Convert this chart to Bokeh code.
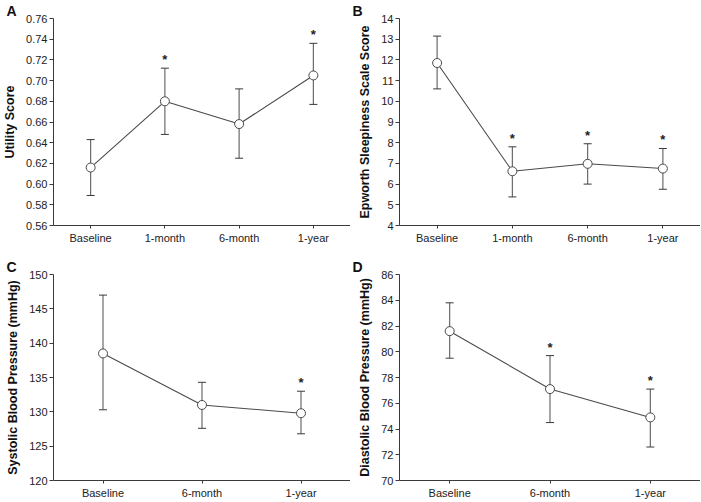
from bokeh.plotting import figure
from bokeh.layouts import gridplot
from bokeh.models import FactorRange, ColumnDataSource, Whisker, TeeHead, FixedTicker, Title
from bokeh.embed import file_html
from bokeh.resources import INLINE
from bokeh.core.properties import value

# ---- data ----
cats4 = ["Baseline", "1-month", "6-month", "1-year"]
cats3 = ["Baseline", "6-month", "1-year"]

util_mean = [0.616, 0.680, 0.658, 0.705]
util_low = [0.589, 0.648, 0.625, 0.677]
util_high = [0.643, 0.712, 0.692, 0.736]
util_star = [False, True, False, True]

ess_mean = [11.85, 6.62, 6.98, 6.75]
ess_low = [10.6, 5.38, 6.0, 5.75]
ess_high = [13.15, 7.8, 7.95, 7.72]
ess_star = [False, True, True, True]

sbp_mean = [138.5, 131.0, 129.8]
sbp_low = [130.3, 127.6, 126.8]
sbp_high = [147.0, 134.3, 133.0]
sbp_star = [False, False, True]

dbp_mean = [81.6, 77.1, 74.9]
dbp_low = [79.5, 74.5, 72.6]
dbp_high = [83.8, 79.7, 77.1]
dbp_star = [False, True, True]

util_ticks = [0.56, 0.58, 0.60, 0.62, 0.64, 0.66, 0.68, 0.70, 0.72, 0.74, 0.76]
ess_ticks = [4, 5, 6, 7, 8, 9, 10, 11, 12, 13, 14]
sbp_ticks = [120, 125, 130, 135, 140, 145, 150]
dbp_ticks = [70, 72, 74, 76, 78, 80, 82, 84, 86]

TICK_FONT = "Liberation Sans"
LABEL_FONT = "Liberation Sans"
AX = "#3a3a3a"
LINE = "#4a4a4a"
BAR = "#6a6a6a"


def panel(letter, cats, mean, low, high, star, ticks, ylabel, fmt,
          w, h, bl, br, bt, bb):
    p = figure(x_range=FactorRange(*cats, range_padding=0),
               y_range=(ticks[0], ticks[-1]),
               width=w, height=h, output_backend="svg", toolbar_location=None,
               min_border_left=bl, min_border_right=br,
               min_border_top=bt, min_border_bottom=bb)
    p.outline_line_color = None
    p.xgrid.visible = False
    p.ygrid.visible = False
    p.background_fill_color = "white"
    p.border_fill_color = "white"

    src = ColumnDataSource(dict(x=cats, m=mean, lo=low, hi=high))
    w_ = Whisker(source=src, base="x", upper="hi", lower="lo",
                 line_color=BAR, line_width=1.2,
                 upper_head=TeeHead(size=8, line_color=AX, line_width=1),
                 lower_head=TeeHead(size=8, line_color=AX, line_width=1))
    p.add_layout(w_)
    p.line("x", "m", source=src, line_color=LINE, line_width=1.1)
    p.scatter("x", "m", source=src, size=9, fill_color="white",
              line_color=LINE, line_width=1)

    sx = [c for c, s in zip(cats, star) if s]
    sy = [v for v, s in zip(high, star) if s]
    p.text(x=sx, y=sy, text=["*"] * len(sx), text_align="center",
           text_baseline="bottom", y_offset=-1,
           text_font=value(LABEL_FONT), text_font_style="bold",
           text_font_size="13px", text_color="#222")

    for ax in (p.xaxis[0], p.yaxis[0]):
        ax.axis_line_color = AX
        ax.major_tick_line_color = AX
        ax.minor_tick_line_color = None
        ax.major_tick_in = 0
        ax.major_tick_out = 4
        ax.major_label_text_font = TICK_FONT
        ax.major_label_text_font_size = "11px"
        ax.major_label_text_color = "#222"
    p.xaxis.major_tick_out = 3
    p.xaxis.major_label_standoff = 3
    p.yaxis.major_label_standoff = 2
    p.yaxis.ticker = FixedTicker(ticks=ticks)
    p.yaxis.major_label_overrides = {t: fmt.format(t) for t in ticks}
    p.yaxis.axis_label = ylabel
    p.yaxis.axis_label_text_font = LABEL_FONT
    p.yaxis.axis_label_text_font_style = "bold"
    p.yaxis.axis_label_text_font_size = "12.5px"
    p.yaxis.axis_label_text_color = "#111"
    p.yaxis.axis_label_standoff = 6

    p.add_layout(Title(text=letter, align="left", offset=-bl + 2, standoff=0,
                       text_font=LABEL_FONT, text_font_style="bold",
                       text_font_size="14px", text_color="#111"), "above")
    return p


pa = panel("A", cats4, util_mean, util_low, util_high, util_star, util_ticks,
           "Utility Score", "{:.2f}", 350, 250, 49, 0, 15, 25)
pb = panel("B", cats4, ess_mean, ess_low, ess_high, ess_star, ess_ticks,
           "Epworth Sleepiness Scale Score", "{:d}", 350, 250, 49, 0, 15, 25)
pc = panel("C", cats3, sbp_mean, sbp_low, sbp_high, sbp_star, sbp_ticks,
           "Systolic Blood Pressure (mmHg)", "{:d}", 350, 251, 49, 0, 24, 17)
pd = panel("D", cats3, dbp_mean, dbp_low, dbp_high, dbp_star, dbp_ticks,
           "Diastolic Blood Pressure (mmHg)", "{:d}", 350, 251, 49, 0, 24, 17)

grid = gridplot([[pa, pb], [pc, pd]], toolbar_location=None)

open("out.html", "w").write(file_html(grid, INLINE))
